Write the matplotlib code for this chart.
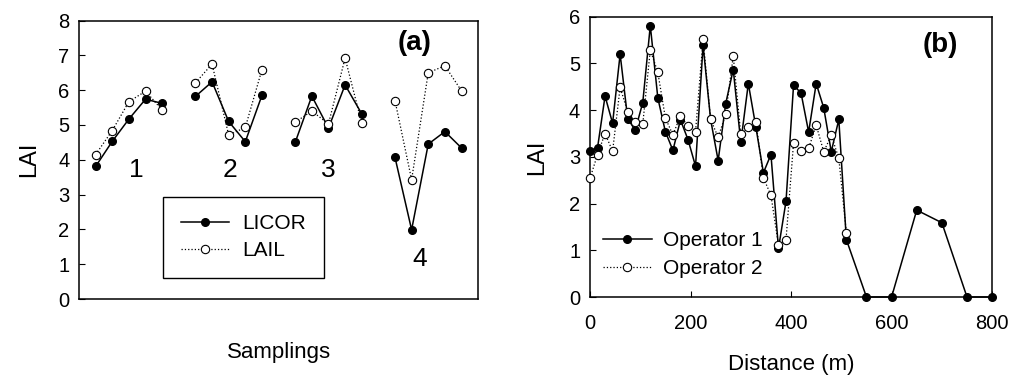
"""LAI comparison: (a) LICOR vs LAIL per sampling, (b) two operators along a transect"""

import matplotlib
matplotlib.use('Agg')
import matplotlib.pyplot as plt
import numpy as np

plt.rcParams['font.family'] = ['Liberation Sans', 'DejaVu Sans']

# ---- panel (a) data: 4 samplings x 5 readings
samplings = ['1', '2', '3', '4']
licor = [[3.81, 4.53, 5.17, 5.74, 5.62],
         [5.82, 6.24, 5.10, 4.52, 5.85],
         [4.50, 5.83, 4.91, 6.15, 5.32],
         [4.07, 1.99, 4.45, 4.81, 4.34]]
lail = [[4.15, 4.84, 5.67, 5.97, 5.43],
        [6.21, 6.75, 4.71, 4.93, 6.59],
        [5.08, 5.40, 5.03, 6.92, 5.05],
        [5.70, 3.43, 6.50, 6.70, 5.98]]

# ---- panel (b) data: distance (m) and LAI
dist1 = [0, 15, 30, 45, 60, 75, 90, 105, 120, 135, 150, 165, 180, 195, 210,
         225, 240, 255, 270, 285, 300, 315, 330, 345, 360, 375, 390, 405, 420,
         435, 450, 465, 480, 495, 510, 550, 600, 650, 700, 750, 800]
op1 = [3.13, 3.19, 4.30, 3.72, 5.20, 3.82, 3.57, 4.16, 5.81, 4.26, 3.54, 3.14,
       3.79, 3.37, 2.80, 5.39, 3.80, 2.92, 4.14, 4.87, 3.31, 4.57, 3.64, 2.66,
       3.05, 1.04, 2.05, 4.54, 4.36, 3.53, 4.57, 4.05, 3.11, 3.80, 1.23,
       0, 0, 1.86, 1.59, 0, 0]
dist2 = [0, 15, 30, 45, 60, 75, 90, 105, 120, 135, 150, 165, 180, 195, 210,
         225, 240, 255, 270, 285, 300, 315, 330, 345, 360, 375, 390, 405, 420,
         435, 450, 465, 480, 495, 510]
op2 = [2.54, 3.05, 3.50, 3.12, 4.49, 3.96, 3.74, 3.70, 5.29, 4.81, 3.83, 3.47,
       3.88, 3.66, 3.54, 5.52, 3.80, 3.42, 3.91, 5.16, 3.48, 3.63, 3.75, 2.55,
       2.18, 1.11, 1.23, 3.30, 3.12, 3.18, 3.68, 3.11, 3.46, 2.97, 1.38]

fig = plt.figure(figsize=(10.13, 3.8), dpi=100, facecolor='w')
ax1 = fig.add_axes([0.078, 0.213, 0.394, 0.733])
ax2 = fig.add_axes([0.5824, 0.2184, 0.397, 0.7376])

solid = dict(color='k', lw=1.1, marker='o', ms=5.5, mfc='k', mec='k')
dotted = dict(color='k', lw=0.9, ls=':', marker='o', ms=6, mfc='w', mec='k', mew=0.8)

# panel (a)
for g in range(len(samplings)):
    xs = g * 6 + np.arange(1, 6)
    l1, = ax1.plot(xs, licor[g], label='LICOR', **solid)
    l2, = ax1.plot(xs, lail[g], label='LAIL', **dotted)

label_pos = [(3.45, 3.7), (9.1, 3.7), (15.0, 3.7), (20.5, 1.15)]
for s, (lx, ly) in zip(samplings, label_pos):
    ax1.text(lx, ly, s, fontsize=19, ha='center', va='center')

ax1.set_xlim(0, 24)
ax1.set_ylim(0, 8)
ax1.set_xticks([])
ax1.set_yticks(range(0, 9))
ax1.tick_params(axis='y', direction='in', length=4, pad=7, labelsize=14.5)
ax1.set_ylabel('LAI', fontsize=17, labelpad=13)
ax1.set_xlabel('Samplings', fontsize=16, labelpad=31)
ax1.text(0.84, 0.92, '(a)', transform=ax1.transAxes, fontsize=20,
         fontweight='bold', ha='center', va='center')
leg = ax1.legend(handles=[l1, l2], loc='upper left', bbox_to_anchor=(0.211, 0.368),
                 borderaxespad=0, fontsize=15, frameon=True, fancybox=False,
                 edgecolor='k', framealpha=1, handlelength=2.3, handletextpad=0.65,
                 borderpad=0.85, labelspacing=0.38)
leg.get_frame().set_linewidth(1.0)

# panel (b)
p1, = ax2.plot(dist1, op1, label='Operator 1', clip_on=False, zorder=3, **solid)
p2, = ax2.plot(dist2, op2, label='Operator 2', clip_on=False, zorder=4, **dotted)
ax2.set_xlim(0, 800)
ax2.set_ylim(0, 6)
ax2.set_xticks(range(0, 801, 200))
ax2.set_yticks(range(0, 7))
ax2.tick_params(direction='in', length=4, labelsize=14.5)
ax2.tick_params(axis='x', pad=12)
ax2.tick_params(axis='y', pad=7)
ax2.set_ylabel('LAI', fontsize=17, labelpad=15)
ax2.set_xlabel('Distance (m)', fontsize=16, labelpad=15)
ax2.text(0.87, 0.9, '(b)', transform=ax2.transAxes, fontsize=20,
         fontweight='bold', ha='center', va='center')
ax2.legend(handles=[p1, p2], loc='upper left', bbox_to_anchor=(0.032, 0.235),
           borderaxespad=0, borderpad=0, frameon=False, fontsize=15,
           handlelength=2.35, handletextpad=0.55, labelspacing=0.42)

for ax in (ax1, ax2):
    for sp in ax.spines.values():
        sp.set_linewidth(1.1)

fig.savefig('out.png', dpi=100, facecolor=fig.get_facecolor())
